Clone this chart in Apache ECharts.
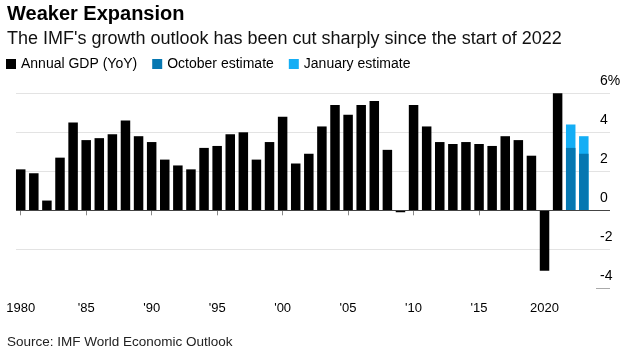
<!DOCTYPE html>
<html lang="en">
<head>
    <meta charset="UTF-8">
    <title>Weaker Expansion</title>
    <script src="https://cdn.jsdelivr.net/npm/echarts/dist/echarts.min.js"></script>
    <style>
        body { margin: 0; padding: 0; background: #fff; }
        #chart { width: 627px; height: 350px; }
    </style>
</head>
<body>
<div id="chart"></div>
<script>
    // 数据
    var years = [1980, 1981, 1982, 1983, 1984, 1985, 1986, 1987, 1988, 1989,
        1990, 1991, 1992, 1993, 1994, 1995, 1996, 1997, 1998, 1999,
        2000, 2001, 2002, 2003, 2004, 2005, 2006, 2007, 2008, 2009,
        2010, 2011, 2012, 2013, 2014, 2015, 2016, 2017, 2018, 2019,
        2020, 2021];
    var gdp = [2.1, 1.9, 0.5, 2.7, 4.5, 3.6, 3.7, 3.9, 4.6, 3.8,
        3.5, 2.6, 2.3, 2.1, 3.2, 3.3, 3.9, 4.0, 2.6, 3.5,
        4.8, 2.4, 2.9, 4.3, 5.4, 4.9, 5.4, 5.6, 3.1, -0.1,
        5.4, 4.3, 3.5, 3.4, 3.5, 3.4, 3.3, 3.8, 3.6, 2.8,
        -3.1, 6.1];
    var estYears = [2022, 2023];
    var octEst = [3.2, 2.9];
    var janEst = [4.4, 3.8];
    var xTicks = [1980, 1985, 1990, 1995, 2000, 2005, 2010, 2015, 2020];

    var font = 'Liberation Sans, Arial, sans-serif';

    function pairs(xs, ys) {
        return xs.map(function (x, i) { return [x, ys[i]]; });
    }

    var chart = echarts.init(document.getElementById('chart'));

    var option = {
        animation: false,
        textStyle: { fontFamily: font },
        title: [
            {
                text: 'Weaker Expansion',
                subtext: 'The IMF\'s growth outlook has been cut sharply since the start of 2022',
                left: 2,
                top: -1,
                itemGap: 6,
                textStyle: { fontSize: 20, fontWeight: 'bold', color: '#000', fontFamily: font },
                subtextStyle: { fontSize: 18, color: '#111', fontFamily: font }
            },
            {
                text: 'Source: IMF World Economic Outlook',
                left: 2,
                top: 330,
                textStyle: { fontSize: 13.5, fontWeight: 'normal', color: '#222', fontFamily: font }
            }
        ],
        legend: {
            data: ['Annual GDP (YoY)', 'October estimate', 'January estimate'],
            left: 1,
            top: 52,
            icon: 'rect',
            itemWidth: 10,
            itemHeight: 10,
            itemGap: 15,
            textStyle: { fontSize: 14, color: '#000', fontFamily: font }
        },
        grid: { left: 16, right: 17, top: 93.3, bottom: 61.7 },
        xAxis: {
            type: 'value',
            min: 1979.64,
            max: 2025,
            axisLine: { show: false },
            splitLine: { show: false },
            axisTick: {
                customValues: xTicks,
                length: 5,
                lineStyle: { color: '#888' }
            },
            axisLabel: {
                customValues: xTicks,
                margin: 14,
                fontSize: 13,
                color: '#000',
                formatter: function (v) {
                    if (v === 1980 || v === 2020) return String(v);
                    return '\'' + String(v).slice(2);
                }
            }
        },
        yAxis: [
            {
                type: 'value',
                position: 'right',
                min: -4,
                max: 6,
                interval: 2,
                axisLine: { show: false },
                axisTick: { show: false },
                splitLine: {
                    show: true,
                    showMinLine: false,
                    lineStyle: { color: '#e3e3e3' }
                },
                axisLabel: {
                    margin: -10,
                    align: 'left',
                    verticalAlign: 'bottom',
                    padding: [0, 0, 5, 0],
                    fontSize: 14,
                    color: '#000',
                    formatter: function (v) {
                        return v === 6 ? '6%' : String(v);
                    }
                }
            },
            {
                // 只画 -4 处的短线
                type: 'value',
                position: 'right',
                min: -4,
                max: 6,
                interval: 2,
                axisLine: { show: false },
                splitLine: { show: false },
                axisLabel: { show: false },
                axisTick: {
                    show: true,
                    inside: true,
                    customValues: [-4],
                    length: 14,
                    lineStyle: { color: '#aaa' }
                }
            }
        ],
        series: [
            {
                name: 'Annual GDP (YoY)',
                type: 'bar',
                barWidth: 9.5,
                itemStyle: { color: '#000' },
                data: pairs(years, gdp),
                markLine: {
                    silent: true,
                    symbol: 'none',
                    label: { show: false },
                    lineStyle: { color: '#444', width: 1, type: 'solid' },
                    data: [{ yAxis: 0 }]
                }
            },
            {
                name: 'January estimate',
                type: 'bar',
                barWidth: 9.5,
                itemStyle: { color: '#14aef5' },
                data: pairs(estYears, janEst)
            },
            {
                name: 'October estimate',
                type: 'bar',
                barWidth: 9.5,
                barGap: '-100%',
                itemStyle: { color: '#0677b1' },
                data: pairs(estYears, octEst)
            }
        ]
    };

    chart.setOption(option);
</script>
</body>
</html>
